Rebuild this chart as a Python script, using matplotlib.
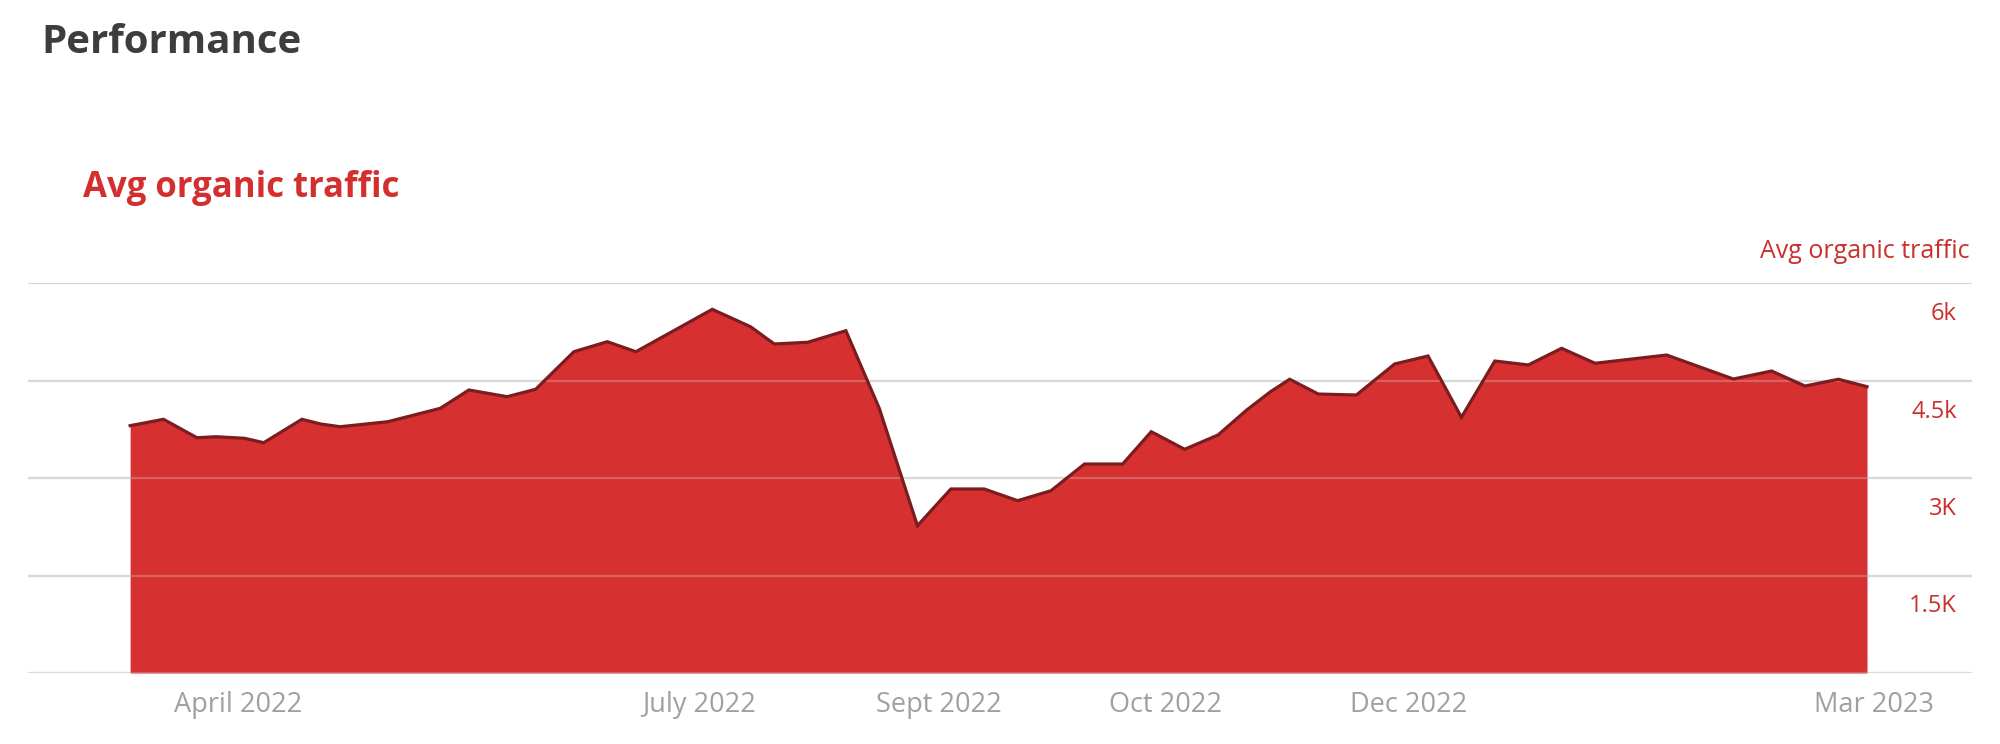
import matplotlib
matplotlib.use("Agg")
import matplotlib.pyplot as plt
from matplotlib.transforms import blended_transform_factory, offset_copy

plt.rcParams['font.family'] = ['Open Sans', 'DejaVu Sans']

# ---- data (days since first observation, avg organic traffic) ----
days = [0, 7, 14, 18, 24, 28, 36, 40, 44, 54, 65, 71, 79, 85, 93, 100, 106, 122,
        130, 135, 142, 150, 157, 165, 172, 179, 186, 193, 200, 208, 214, 221, 228,
        234, 239, 243, 249, 257, 265, 272, 279, 286, 293, 300, 307, 322, 336, 344,
        351, 358, 364]
traffic = [3805, 3903, 3620, 3635, 3611, 3543, 3903, 3830, 3789, 3866, 4072, 4354,
           4251, 4365, 4943, 5097, 4943, 5595, 5328, 5062, 5088, 5266, 4072, 2266,
           2831, 2831, 2651, 2805, 3215, 3215, 3712, 3442, 3662, 4046, 4328, 4519,
           4292, 4277, 4754, 4877, 3934, 4800, 4739, 4995, 4765, 4892, 4523, 4646,
           4415, 4519, 4405]

y_ticks = [0, 1500, 3000, 4500, 6000]
y_tick_labels = ["", "1.5K", "3K", "4.5k", "6k"]

x_tick_pos = [22.7, 119.2, 169.5, 216.9, 268.0, 365.5]
x_tick_labels = ["April 2022", "July 2022", "Sept 2022", "Oct 2022", "Dec 2022", "Mar 2023"]

RED = "#d63031"
DARK = "#7b1d1f"
GRID = "#d9d9d9"

fig = plt.figure(figsize=(20, 7.44), dpi=100)
ax = fig.add_axes([0.014, 1 - 673 / 744, 0.972, (673 - 283) / 744])

ax.fill_between(days, traffic, 0, color=RED, linewidth=0, zorder=2)
ax.plot(days, traffic, color=DARK, linewidth=2.3, zorder=4, solid_joinstyle='miter')

for v in y_ticks:
    ax.axhline(v, color=GRID, linewidth=1.6, zorder=1)
    ax.axhline(v, color=GRID, linewidth=1.6, alpha=0.3, zorder=3)

ax.set_xlim(-21.4, 386.0)
ax.set_ylim(0, 6000)
for s in ax.spines.values():
    s.set_visible(False)
ax.set_yticks([])
ax.set_xticks(x_tick_pos)
ax.set_xticklabels(x_tick_labels, fontsize=19.5, color="#a0a0a0")
ax.tick_params(axis='x', length=0, pad=13)

trans = blended_transform_factory(ax.transAxes, ax.transData)
trans_off = offset_copy(trans, fig=fig, x=-15, y=-31, units='dots')
for v, lab in zip(y_ticks, y_tick_labels):
    if lab:
        ax.text(1.0, v, lab, transform=trans_off, ha='right', va='center',
                fontsize=17, color="#c9302c")

fig.text(1970 / 2000, 1 - 258 / 744, "Avg organic traffic", ha='right', va='baseline',
         fontsize=18, color="#c9302c")
fig.text(41 / 2000, 1 - 53 / 744, "Performance", ha='left', va='baseline',
         fontsize=29, fontweight='bold', color="#3d3d3d")
fig.text(83 / 2000, 1 - 197 / 744, "Avg organic traffic", ha='left', va='baseline',
         fontsize=25, fontweight='bold', color="#d32f2f")

fig.savefig("out.png", dpi=100, facecolor="white")
